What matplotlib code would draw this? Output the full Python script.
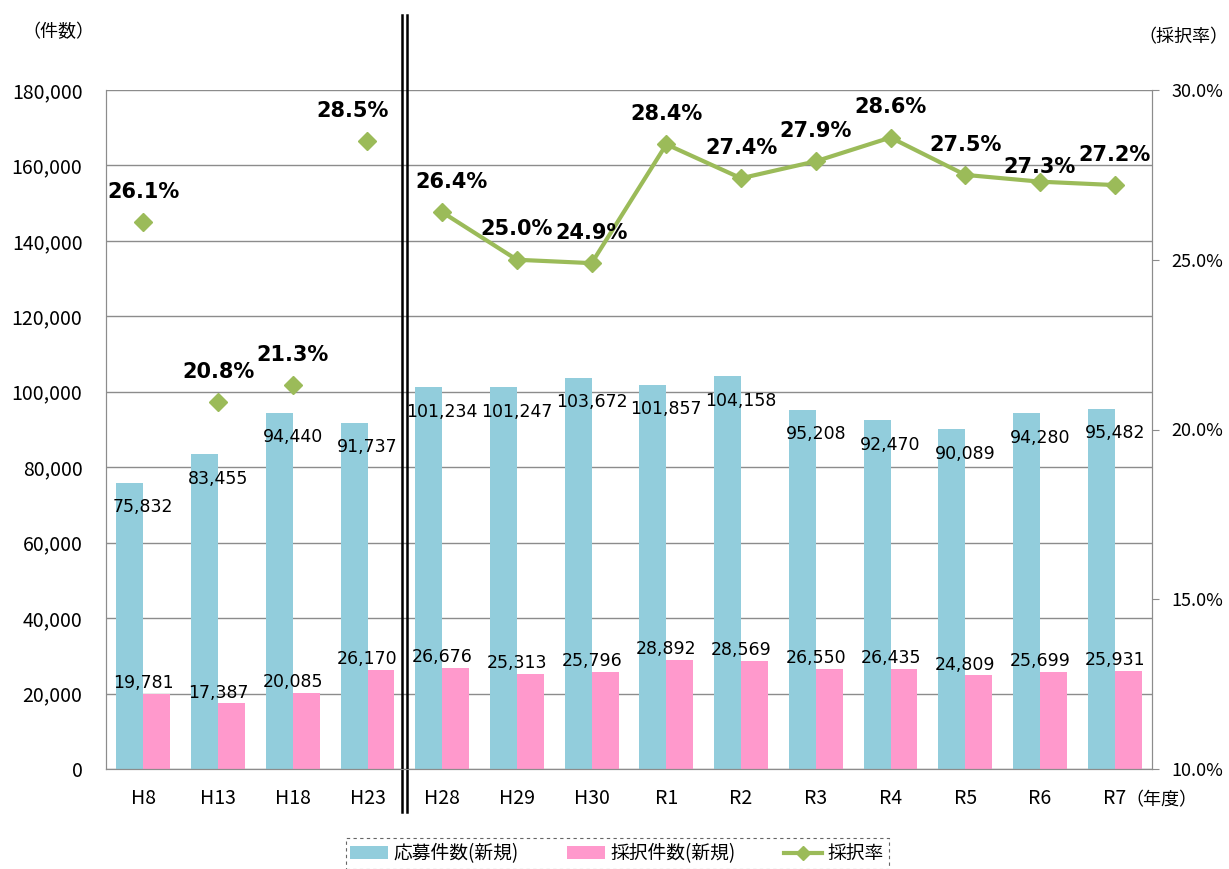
import matplotlib
matplotlib.use("Agg")
import matplotlib.pyplot as plt
import matplotlib.transforms as mtransforms
from matplotlib.lines import Line2D
from matplotlib.patches import Patch

plt.rcParams['font.family'] = ['Noto Sans CJK JP', 'DejaVu Sans']

categories = ["H8", "H13", "H18", "H23", "H28", "H29", "H30", "R1", "R2", "R3", "R4", "R5", "R6", "R7"]
applications = [75832, 83455, 94440, 91737, 101234, 101247, 103672, 101857, 104158, 95208, 92470, 90089, 94280, 95482]
adoptions = [19781, 17387, 20085, 26170, 26676, 25313, 25796, 28892, 28569, 26550, 26435, 24809, 25699, 25931]
rates = [26.1, 20.8, 21.3, 28.5, 26.4, 25.0, 24.9, 28.4, 27.4, 27.9, 28.6, 27.5, 27.3, 27.2]
left_ticks = [0, 20000, 40000, 60000, 80000, 100000, 120000, 140000, 160000, 180000]
right_ticks = [10.0, 15.0, 20.0, 25.0, 30.0]

blue = "#92CDDC"
pink = "#FF99CC"
green = "#9BBB59"
gray = "#8C8C8C"
label_font = ['DejaVu Sans']

fig = plt.figure(figsize=(12.29, 8.69), dpi=100)
ax = fig.add_axes([106/1229, 1-769/869, (1152-106)/1229, (769-90)/869])
ax2 = ax.twinx()

x = list(range(len(categories)))
w = 0.36
ax.bar([i - w for i in x], applications, width=w, align='edge', color=blue, zorder=2)
ax.bar(x, adoptions, width=w, align='edge', color=pink, zorder=2)

ax.set_xlim(-0.5, len(categories) - 0.5)
ax.set_ylim(0, 180000)
ax.set_yticks(left_ticks)
ax.set_yticklabels([f"{v:,}" for v in left_ticks], fontsize=14)
ax.yaxis.grid(True, color=gray, linewidth=1.0, zorder=0)
ax.set_axisbelow(True)
ax.set_xticks(x)
ax.set_xticklabels(categories, fontsize=14)
ax.tick_params(axis='x', length=0, pad=14)
ax.tick_params(axis='y', length=0, pad=17)
for s in ax.spines.values():
    s.set_color(gray)
ax.spines['top'].set_visible(False)

for i, v in enumerate(applications):
    ax.text(i, v - 6500, f"{v:,}", ha='center', va='center', fontsize=12.5,
            family=label_font, zorder=5)
for i, v in enumerate(adoptions):
    ax.text(i, v + 500, f"{v:,}", ha='center', va='bottom', fontsize=12.5,
            family=label_font, zorder=5)

# rate
ax2.set_ylim(10, 30)
ax2.set_yticks(right_ticks)
ax2.set_yticklabels([f"{v:.1f}%" for v in right_ticks], fontsize=13)
ax2.tick_params(axis='y', length=5, color=gray, pad=9)
for s in ax2.spines.values():
    s.set_color(gray)
ax2.spines['top'].set_visible(False)
ax2.plot(x[:4], rates[:4], linestyle='none', marker='D', color=green, markersize=9, zorder=4)
ax2.plot(x[4:], rates[4:], linestyle='-', linewidth=3, marker='D', color=green, markersize=9, zorder=4)
# small label nudges (layout only), as in the reference
rate_label_dx = {3: -0.2, 4: 0.13}
rate_label_dy = {12: -0.45}
for i, r in enumerate(rates):
    ax2.text(i + rate_label_dx.get(i, 0), r + 0.6 + rate_label_dy.get(i, 0), f"{r:.1f}%",
             ha='center', va='bottom', fontsize=15, fontweight='bold',
             family=label_font, zorder=6)

# double separator line
trans = mtransforms.blended_transform_factory(ax.transData, ax.transAxes)
for dx in (-0.035, 0.035):
    ax.add_line(Line2D([3.5 + dx, 3.5 + dx], [-0.063, 1.11], transform=trans, color='black',
                       linewidth=1.8, clip_on=False, zorder=10))

fig.text(58/1229, 1-32/869, "（件数）", ha='center', va='center', fontsize=13)
fig.text(1228/1229, 1-37/869, "（採択率）", ha='right', va='center', fontsize=13)
ax.text(13.15, -0.046, "（年度）", transform=trans, ha='left', va='center', fontsize=13)

handles = [Patch(facecolor=blue, edgecolor='none'), Patch(facecolor=pink, edgecolor='none'),
           Line2D([0], [0], color=green, linewidth=3, marker='D', markersize=7)]
leg = fig.legend(handles, ["応募件数(新規)", "採択件数(新規)", "採択率"], loc='upper center',
                 bbox_to_anchor=(617/1229, 1-829/869), ncol=3, fontsize=13.5, frameon=True,
                 fancybox=False, edgecolor='#404040', handlelength=2.0, handletextpad=0.3,
                 columnspacing=2.6, borderpad=0.25)
leg.get_frame().set_linestyle((0, (3, 3)))
leg.get_frame().set_linewidth(0.8)

fig.savefig("out.png", dpi=100)
